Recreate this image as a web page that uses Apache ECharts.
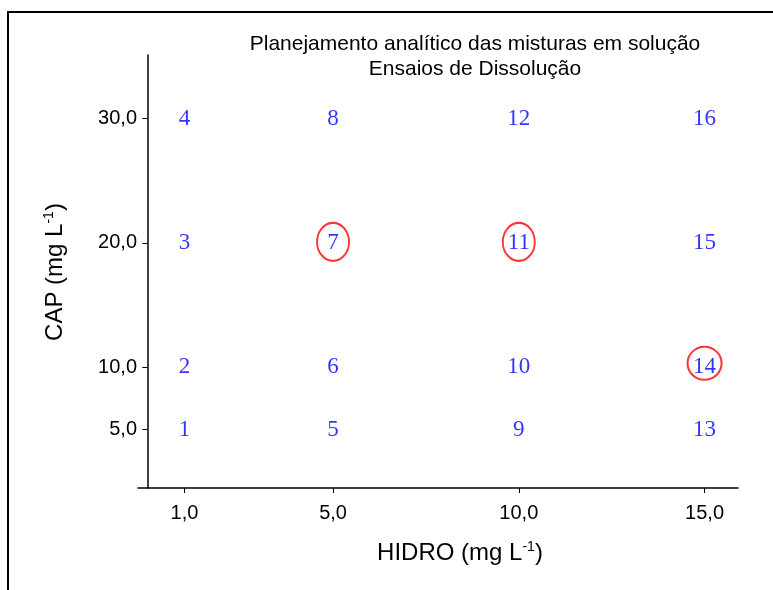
<!DOCTYPE html>
<html>
<head>
<meta charset="utf-8">
<script src="https://cdn.jsdelivr.net/npm/echarts@6/dist/echarts.min.js"></script>
<style>
  html, body { margin: 0; padding: 0; background: #fff; }
  #chart { width: 773px; height: 590px; }
</style>
</head>
<body>
<div id="chart"></div>
<script>
// Planejamento fatorial: níveis de HIDRO (x) e CAP (y)
const hidroLevels = [1, 5, 10, 15];
const capLevels = [5, 10, 20, 30];
const hidroTicks = ['1,0', '5,0', '10,0', '15,0'];
const capTicks = ['5,0', '10,0', '20,0', '30,0'];
// número da mistura em cada combinação (linha = nível de HIDRO, coluna = nível de CAP)
const mixtureIds = [
  [1, 2, 3, 4],
  [5, 6, 7, 8],
  [9, 10, 11, 12],
  [13, 14, 15, 16]
];
// misturas destacadas
const highlighted = [7, 11, 14];

const points = [];
hidroLevels.forEach((h, i) => {
  capLevels.forEach((c, j) => {
    points.push({ value: [h, c], id: mixtureIds[i][j] });
  });
});
const marked = points.filter(p => highlighted.includes(p.id));

const SANS = 'Liberation Sans, Arial, Helvetica, sans-serif';
const nameRich = {
  n: { fontFamily: SANS, fontSize: 24, color: '#000' },
  s: { fontFamily: SANS, fontSize: 14, color: '#000', verticalAlign: 'top', padding: [0, 0, 12, 0] }
};

const chart = echarts.init(document.getElementById('chart'), null, { renderer: 'canvas' });
chart.setOption({
  animation: false,
  backgroundColor: '#fff',
  title: {
    text: 'Planejamento analítico das misturas em solução\nEnsaios de Dissolução',
    left: 470,
    top: 27,
    textAlign: 'center',
    textStyle: {
      fontFamily: SANS,
      fontWeight: 'normal',
      fontSize: 21,
      lineHeight: 25,
      color: '#000'
    }
  },
  graphic: [
    {
      type: 'rect',
      shape: { x: 8, y: 12, width: 900, height: 700 },
      style: { fill: 'none', stroke: '#000', lineWidth: 2 },
      silent: true
    },
    {
      type: 'text',
      x: 460,
      y: 553,
      style: {
        text: '{n|HIDRO (mg L}{s|-1}{n|)}',
        rich: nameRich,
        align: 'center',
        verticalAlign: 'middle'
      },
      silent: true
    },
    {
      type: 'text',
      x: 55,
      y: 272,
      rotation: Math.PI / 2,
      style: {
        text: '{n|CAP (mg L}{s|-1}{n|)}',
        rich: nameRich,
        align: 'center',
        verticalAlign: 'middle'
      },
      silent: true
    }
  ],
  grid: { left: 138, right: 35, top: 55, bottom: 102 },
  xAxis: {
    type: 'value',
    min: -0.25,
    max: 15.9,
    splitLine: { show: false },
    axisLine: { onZero: false, lineStyle: { color: '#000', width: 1.5 } },
    axisTick: { customValues: hidroLevels, length: 5, lineStyle: { color: '#000', width: 1 } },
    axisLabel: {
      customValues: hidroLevels,
      formatter: v => hidroTicks[hidroLevels.indexOf(v)],
      fontFamily: SANS,
      fontSize: 20,
      color: '#000',
      margin: 15
    }
  },
  yAxis: {
    type: 'value',
    min: 0.3,
    max: 35.1,
    splitLine: { show: false },
    axisLine: { onZero: true, lineStyle: { color: '#000', width: 1.5 } },
    axisTick: { customValues: capLevels, length: 5, lineStyle: { color: '#000', width: 1 } },
    axisLabel: {
      customValues: capLevels,
      formatter: v => capTicks[capLevels.indexOf(v)],
      fontFamily: SANS,
      fontSize: 20,
      color: '#000',
      margin: 1
    }
  },
  series: [
    {
      type: 'scatter',
      data: points,
      symbolSize: 0,
      silent: true,
      label: {
        show: true,
        position: 'inside',
        formatter: p => String(p.data.id),
        fontFamily: 'Liberation Serif, Times New Roman, serif',
        fontSize: 23,
        color: '#0000ff'
      }
    },
    {
      type: 'scatter',
      data: marked.map(p => ({
        value: p.value,
        symbolSize: p.id === 14 ? [34, 33] : [32, 38],
        symbolOffset: p.id === 14 ? [0, -4] : [0, -1]
      })),
      symbol: 'circle',
      silent: true,
      itemStyle: { color: 'rgba(0,0,0,0)', borderColor: '#ff0000', borderWidth: 2 }
    }
  ]
});
</script>
</body>
</html>
